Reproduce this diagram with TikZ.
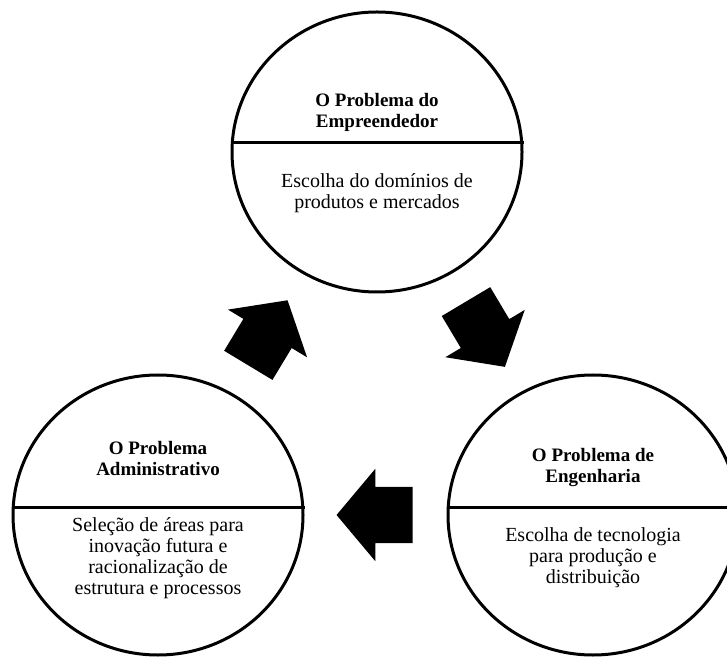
\documentclass[tikz,border=0pt]{standalone}
\usepackage{fontspec}
\setmainfont{Liberation Serif}
\usepackage{tikz}
\usetikzlibrary{shapes.geometric, shapes.arrows, positioning, calc}

\begin{document}
\begin{tikzpicture}[
    x=1pt, y=1pt,
    problem/.style={ellipse, draw=black, line width=3pt, minimum width=290pt, minimum height=280pt, inner sep=0pt},
    divider/.style={draw=black, line width=3pt},
    probtitle/.style={align=center, font=\fontsize{19}{21}\selectfont\bfseries},
    probtext/.style={align=center, font=\fontsize{20}{21}\selectfont},
    cyclearrow/.style={single arrow, fill=black, draw=none, minimum height=76pt, inner xsep=0pt, inner ysep=28pt, single arrow head extend=18pt, single arrow head indent=0pt, single arrow tip angle=100}
]
    \clip (0,0) rectangle (727,656);

    % the three problems
    \node[problem] (emp) at (377,504) {};
    \node[problem] (adm) at (158,141) {};
    \node[problem] (eng) at (593,141) {};

    \draw[divider] ([yshift=9pt]emp.west) -- ([yshift=9pt]emp.east);
    \draw[divider] ([yshift=8pt]adm.west) -- ([yshift=8pt]adm.east);
    \draw[divider] ([yshift=8pt]eng.west) -- ([yshift=8pt]eng.east);

    \node[probtitle] (empT) at ([yshift=40pt]emp.center) {O Problema do\\Empreendedor};
    \node[probtext] (empD) at ([yshift=-41pt]emp.center) {Escolha do domínios de\\produtos e mercados};

    \node[probtitle] (admT) at ([yshift=57pt]adm.center) {O Problema\\Administrativo};
    \node[probtext] (admD) at ([yshift=-43pt]adm.center) {Seleção de áreas para\\inovação futura e\\racionalização de\\estrutura e processos};

    \node[probtitle] (engT) at ([yshift=47pt]eng.center) {O Problema de\\Engenharia};
    \node[probtext] (engD) at ([yshift=-43pt]eng.center) {Escolha de tecnologia\\para produção e\\distribuição};

    % cycle arrows
    \node[cyclearrow, rotate=-59.2] (empToEng) at ($(emp)!0.474!(eng)$) {};
    \node[cyclearrow, rotate=180] (engToAdm) at ($(eng)!0.475!(adm)$) {};
    \node[cyclearrow, rotate=58.9] (admToEmp) at ($(adm)!0.474!(emp)$) {};
\end{tikzpicture}
\end{document}
